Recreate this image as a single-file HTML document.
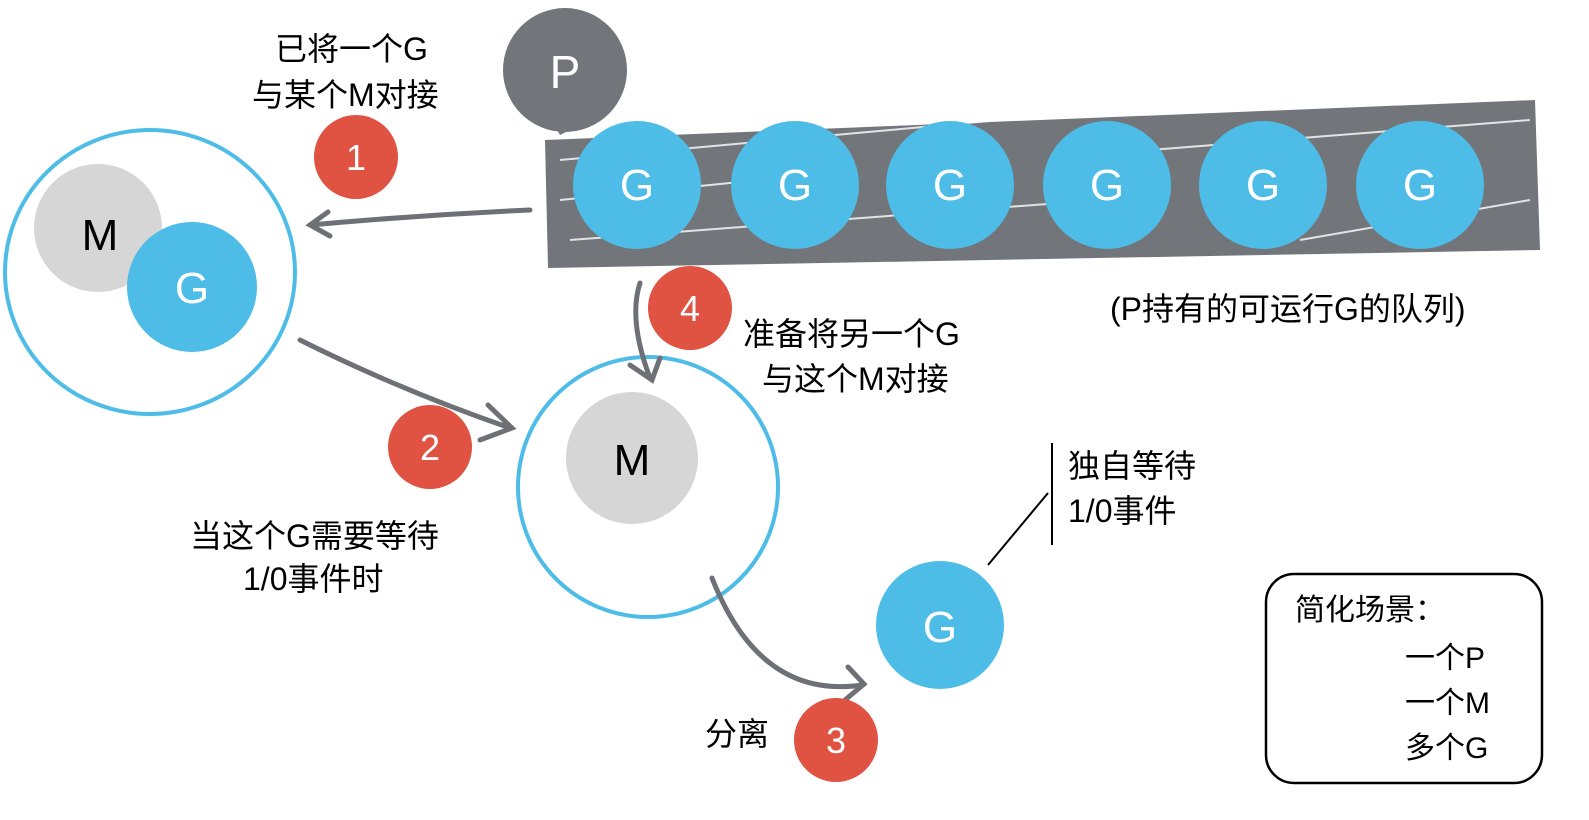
<!DOCTYPE html>
<html><head><meta charset="utf-8"><style>
html,body{margin:0;padding:0;background:#fff;}
svg{display:block;}
text{font-family:"Liberation Sans","Noto Sans CJK SC",sans-serif;}
</style></head><body>
<svg width="1589" height="820" viewBox="0 0 1589 820" xmlns="http://www.w3.org/2000/svg">
<defs>
<marker id="ah" markerWidth="10" markerHeight="10" refX="6" refY="5" orient="auto" markerUnits="userSpaceOnUse" viewBox="0 0 10 10">
</marker>
</defs>
<!-- band -->
<polygon points="545,140 1535,100 1540,250 548,268" fill="#72767b"/>
<g stroke="#fff" stroke-width="2" opacity="0.8">
<line x1="560" y1="160" x2="1000" y2="120"/>
<line x1="560" y1="200" x2="760" y2="180"/>
<line x1="570" y1="240" x2="1100" y2="200"/>
<line x1="1150" y1="150" x2="1530" y2="120"/>
<line x1="1300" y1="240" x2="1530" y2="200"/>
</g>
<!-- P -->
<circle cx="565" cy="70" r="62" fill="#72767b"/>
<polygon points="545,110 600,115 560,135" fill="#72767b"/>
<text x="565" y="88" font-size="46" fill="#fff" text-anchor="middle">P</text>
<!-- queue Gs -->
<g fill="#4dbde8">
<circle cx="637" cy="185" r="64"/><circle cx="795" cy="185" r="64"/><circle cx="950" cy="185" r="64"/>
<circle cx="1107" cy="185" r="64"/><circle cx="1263" cy="185" r="64"/><circle cx="1420" cy="185" r="64"/>
</g>
<g fill="#fff" font-size="44" text-anchor="middle">
<text x="637" y="200">G</text><text x="795" y="200">G</text><text x="950" y="200">G</text>
<text x="1107" y="200">G</text><text x="1263" y="200">G</text><text x="1420" y="200">G</text>
</g>
<!-- left circle -->
<ellipse cx="150" cy="272" rx="145" ry="142" fill="none" stroke="#4dbde8" stroke-width="4"/>
<circle cx="98" cy="228" r="64" fill="#d6d6d6"/>
<circle cx="192" cy="287" r="65" fill="#4dbde8"/>
<text x="100" y="250" font-size="44" text-anchor="middle">M</text>
<text x="192" y="303" font-size="44" fill="#fff" text-anchor="middle">G</text>
<!-- middle circle -->
<circle cx="648" cy="487" r="130" fill="none" stroke="#4dbde8" stroke-width="4"/>
<circle cx="632" cy="458" r="66" fill="#d6d6d6"/>
<text x="632" y="475" font-size="44" text-anchor="middle">M</text>
<!-- lone G -->
<circle cx="940" cy="625" r="64" fill="#4dbde8"/>
<text x="940" y="642" font-size="44" fill="#fff" text-anchor="middle">G</text>
<line x1="988" y1="565" x2="1048" y2="493" stroke="#000" stroke-width="2"/>
<line x1="1052" y1="443" x2="1052" y2="545" stroke="#000" stroke-width="2"/>
<!-- arrows -->
<g fill="none" stroke="#6d7075" stroke-width="5" stroke-linecap="round">
<path d="M530,210 Q420,215 310,225"/>
<path d="M328,212 L310,225 L330,236"/>
<path d="M300,340 Q400,390 510,428"/>
<path d="M488,405 L512,428 L480,440"/>
<path d="M640,283 Q628,320 650,378"/>
<path d="M630,365 L652,380 L660,358"/>
<path d="M712,578 Q760,700 862,685"/>
<path d="M848,667 L864,684 L845,700"/>
</g>
<!-- red badges -->
<g fill="#e05242">
<circle cx="356" cy="157" r="42"/><circle cx="690" cy="308" r="42"/>
<circle cx="430" cy="447" r="42"/><circle cx="836" cy="740" r="42"/>
</g>
<g fill="#fff" font-size="36" text-anchor="middle">
<text x="356" y="170">1</text><text x="690" y="321">4</text>
<text x="430" y="460">2</text><text x="836" y="753">3</text>
</g>
<!-- labels -->
<g font-size="32" fill="#000">
<text x="275" y="60">已将一个G</text>
<text x="252" y="106">与某个M对接</text>
<text x="743" y="345">准备将另一个G</text>
<text x="762" y="390">与这个M对接</text>
<text x="190" y="547">当这个G需要等待</text>
<text x="243" y="590">1/0事件时</text>
<text x="1068" y="477">独自等待</text>
<text x="1068" y="522">1/0事件</text>
<text x="705" y="745">分离</text>
<text x="1110" y="320">(P持有的可运行G的队列)</text>
</g>
<!-- legend -->
<rect x="1266" y="574" width="276" height="209" rx="28" fill="none" stroke="#000" stroke-width="2.5"/>
<g font-size="30" fill="#000">
<text x="1295" y="620">简化场景：</text>
<text x="1405" y="668">一个P</text>
<text x="1405" y="713">一个M</text>
<text x="1405" y="758">多个G</text>
</g>
</svg>
</body></html>
